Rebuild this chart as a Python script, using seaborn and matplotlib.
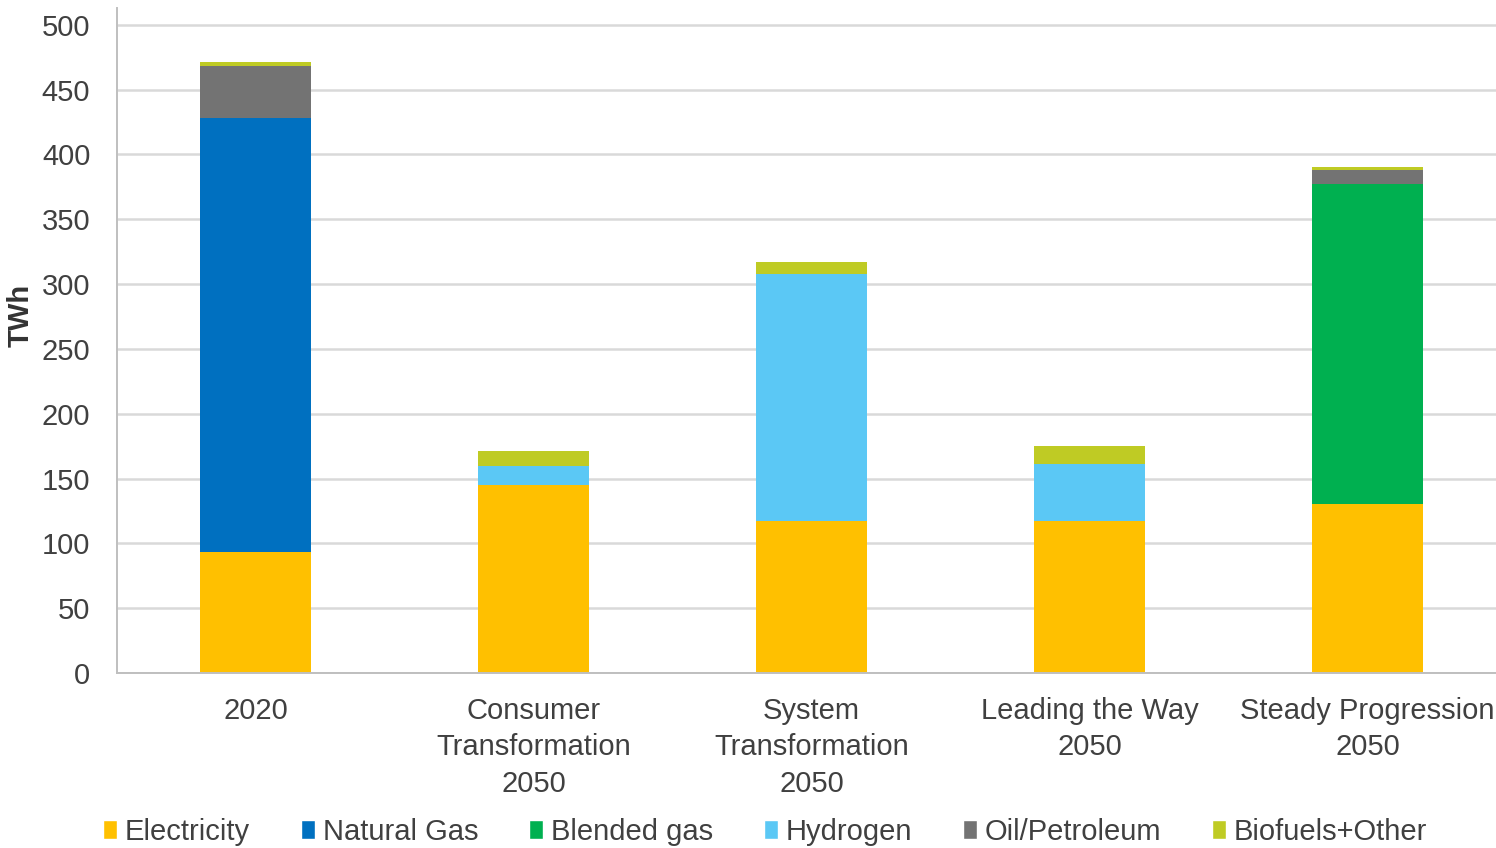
import matplotlib
matplotlib.use("Agg")
import matplotlib.pyplot as plt
import numpy as np
import pandas as pd
import seaborn as sns
from matplotlib.patches import Patch

# ── data ─────────────────────────────────────────────────────────────────────
scenarios = [
    "2020",
    "Consumer\nTransformation\n2050",
    "System\nTransformation\n2050",
    "Leading the Way\n2050",
    "Steady Progression\n2050",
]
fuels = ["Electricity", "Natural Gas", "Blended gas", "Hydrogen",
         "Oil/Petroleum", "Biofuels+Other"]

electricity = [93, 145, 117, 117, 130]
natural_gas = [335, 0, 0, 0, 0]
blended_gas = [0, 0, 0, 0, 247]
hydrogen = [0, 15, 191, 44, 0]
oil_petroleum = [40, 0, 0, 0, 11]
biofuels_other = [3, 11, 9, 14, 2]

colors = {
    "Electricity": "#FFC000",
    "Natural Gas": "#0070C0",
    "Blended gas": "#00B050",
    "Hydrogen": "#5BC8F5",
    "Oil/Petroleum": "#737373",
    "Biofuels+Other": "#BFCB24",
}

series = [electricity, natural_gas, blended_gas, hydrogen,
          oil_petroleum, biofuels_other]
df = pd.DataFrame({f: v for f, v in zip(fuels, series)}, index=scenarios)
cum = df.cumsum(axis=1)

# ── plot ─────────────────────────────────────────────────────────────────────
sns.set_style("white")
plt.rcParams["font.family"] = ["Liberation Sans", "DejaVu Sans"]

fig, ax = plt.subplots(figsize=(14.96, 8.48), dpi=100)
fig.subplots_adjust(left=0.078, right=1.007, top=0.9906, bottom=0.2064)

# draw cumulative bars from top layer down so each layer overpaints the next
for fuel in reversed(fuels):
    long = pd.DataFrame({"scenario": scenarios, "value": cum[fuel].values})
    sns.barplot(data=long, x="scenario", y="value", color=colors[fuel],
                width=0.4, saturation=1, ax=ax, order=scenarios,
                linewidth=0, edgecolor="none")

ax.set_ylim(0, 513)
ax.set_xlim(-0.5, len(scenarios) - 0.5)
ax.set_yticks(np.arange(0, 501, 50))
ax.yaxis.grid(True, color="#D9D9D9", linewidth=1.8)
ax.set_axisbelow(True)

ax.set_xlabel("")
ax.set_ylabel("TWh", fontsize=21, fontweight="bold", color="#333333")
ax.yaxis.set_label_coords(-0.059, 0.538)
ax.tick_params(axis="y", labelsize=21, colors="#404040", length=0, pad=19)
ax.tick_params(axis="x", which="major", labelsize=21, colors="#404040",
               length=0, pad=17)
ax.set_xticks(np.arange(-0.5, len(scenarios), 1), minor=True)
ax.tick_params(axis="x", which="minor", length=6, color="#BFBFBF", width=1.2)
for lab in ax.get_xticklabels():
    lab.set_linespacing(1.4)

for side in ["top", "right"]:
    ax.spines[side].set_visible(False)
for side in ["left", "bottom"]:
    ax.spines[side].set_color("#BFBFBF")
    ax.spines[side].set_linewidth(1.4)

handles = [Patch(facecolor=colors[f], label=f) for f in fuels]
fig.legend(handles=handles, loc="center left", bbox_to_anchor=(0.0689, 0.019),
           ncol=6, frameon=False, fontsize=21, handlelength=0.48,
           handleheight=0.62, handletextpad=0.27, columnspacing=1.74,
           borderpad=0, borderaxespad=0, labelcolor="#404040")

plt.savefig("out.png", dpi=100)
plt.close()
